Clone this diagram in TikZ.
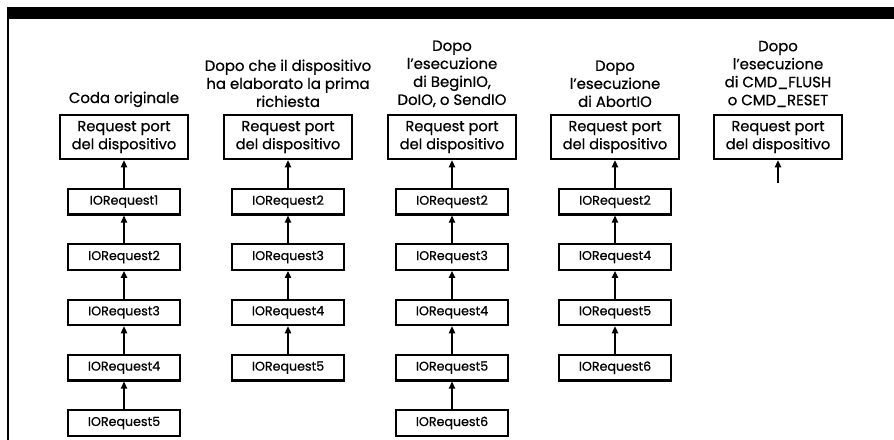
\documentclass[tikz,border=0pt]{standalone}
\usepackage{fontspec}
\setmainfont{Poppins}[FakeBold=0.7]
\usetikzlibrary{arrows.meta,positioning}

\tikzset{
	portbox/.style={draw, line width=1.5pt, minimum width=3.21cm, minimum height=1.11cm, inner sep=1pt, align=center, font=\fontsize{10.4}{12.8}\selectfont},
	reqbox/.style={draw, line width=1.5pt, minimum width=2.79cm, minimum height=0.64cm, inner sep=1pt, font=\fontsize{9}{10}\selectfont},
	caption/.style={inner sep=0pt, align=center, font=\fontsize{10.6}{12.8}\selectfont},
	link/.style={-{Triangle[length=5pt,width=4.5pt]}, line width=0.9pt},
}

\begin{document}
\begin{tikzpicture}[x=0.025cm, y=-0.025cm]
			%%%%% START %%%%%
			\useasboundingbox (0, 0) rectangle (894, 440);
			
			\fill (7, 7) rectangle (894, 19);
			\draw[line width=1.4pt] (8, 19) -- (8, 440);
			
			% Coda originale
			\node[portbox] (p1) at (124, 137) {Request port\\del dispositivo};
			\node[caption, above=0.16cm of p1] (c1) {Coda originale};
			\node[reqbox, below=0.69cm of p1] (a1) {IORequest1};
			\node[reqbox, below=0.69cm of a1] (a2) {IORequest2};
			\node[reqbox, below=0.69cm of a2] (a3) {IORequest3};
			\node[reqbox, below=0.69cm of a3] (a4) {IORequest4};
			\node[reqbox, below=0.69cm of a4] (a5) {IORequest5};
			\draw[link] (a1) -- (p1);
			\draw[link] (a2) -- (a1);
			\draw[link] (a3) -- (a2);
			\draw[link] (a4) -- (a3);
			\draw[link] (a5) -- (a4);
			
			% dopo la prima richiesta
			\node[portbox] (p2) at (288, 137) {Request port\\del dispositivo};
			\node[caption, above=0.16cm of p2] (c2) {Dopo che il dispositivo\\ha elaborato la prima\\richiesta};
			\node[reqbox, below=0.69cm of p2] (b2) {IORequest2};
			\node[reqbox, below=0.69cm of b2] (b3) {IORequest3};
			\node[reqbox, below=0.69cm of b3] (b4) {IORequest4};
			\node[reqbox, below=0.69cm of b4] (b5) {IORequest5};
			\draw[link] (b2) -- (p2);
			\draw[link] (b3) -- (b2);
			\draw[link] (b4) -- (b3);
			\draw[link] (b5) -- (b4);
			
			% BeginIO, DoIO, SendIO
			\node[portbox] (p3) at (452, 137) {Request port\\del dispositivo};
			\node[caption, above=0.16cm of p3] (c3) {Dopo\\l'esecuzione\\di BeginIO,\\DoIO, o SendIO};
			\node[reqbox, below=0.69cm of p3] (d2) {IORequest2};
			\node[reqbox, below=0.69cm of d2] (d3) {IORequest3};
			\node[reqbox, below=0.69cm of d3] (d4) {IORequest4};
			\node[reqbox, below=0.69cm of d4] (d5) {IORequest5};
			\node[reqbox, below=0.69cm of d5] (d6) {IORequest6};
			\draw[link] (d2) -- (p3);
			\draw[link] (d3) -- (d2);
			\draw[link] (d4) -- (d3);
			\draw[link] (d5) -- (d4);
			\draw[link] (d6) -- (d5);
			
			% AbortIO
			\node[portbox] (p4) at (615, 137) {Request port\\del dispositivo};
			\node[caption, above=0.16cm of p4] (c4) {Dopo\\l'esecuzione\\di AbortIO};
			\node[reqbox, below=0.69cm of p4] (e2) {IORequest2};
			\node[reqbox, below=0.69cm of e2] (e4) {IORequest4};
			\node[reqbox, below=0.69cm of e4] (e5) {IORequest5};
			\node[reqbox, below=0.69cm of e5] (e6) {IORequest6};
			\draw[link] (e2) -- (p4);
			\draw[link] (e4) -- (e2);
			\draw[link] (e5) -- (e4);
			\draw[link] (e6) -- (e5);
			
			% CMD_FLUSH, CMD_RESET
			\node[portbox] (p5) at (778, 137) {Request port\\del dispositivo};
			\node[caption, above=0.16cm of p5] (c5) {Dopo\\l'esecuzione\\di CMD\_FLUSH\\o CMD\_RESET};
			\coordinate[below=0.58cm of p5] (f0);
			\draw[link] (f0) -- (p5);
			
			%%%%% END %%%%%
\end{tikzpicture}
\end{document}
